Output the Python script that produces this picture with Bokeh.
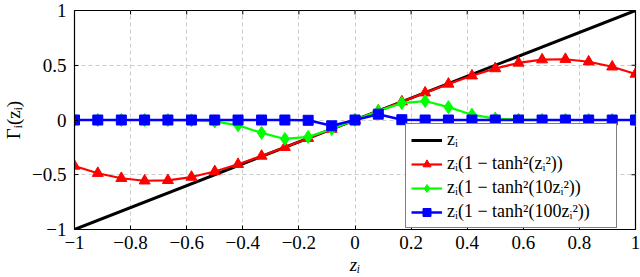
import math
from bokeh.plotting import figure
from bokeh.models import Range1d, FixedTicker, Legend, LegendItem
from bokeh.embed import file_html
from bokeh.resources import INLINE

# ---- data ----
z = [-1.0, -0.917, -0.833, -0.75, -0.667, -0.583, -0.5, -0.417, -0.333, -0.25,
     -0.167, -0.083, 0.0, 0.083, 0.167, 0.25, 0.333, 0.417, 0.5, 0.583, 0.667,
     0.75, 0.833, 0.917, 1.0]
red = [-0.420, -0.486, -0.532, -0.555, -0.551, -0.521, -0.470, -0.404, -0.329,
       -0.249, -0.167, -0.083, 0.0, 0.083, 0.167, 0.249, 0.329, 0.404, 0.470,
       0.521, 0.551, 0.555, 0.532, 0.486, 0.420]
green = [0.0, 0.0, 0.0, 0.0, -0.0004, -0.0026, -0.0133, -0.0486, -0.1175, -0.1731,
         -0.1545, -0.0829, 0.0, 0.0829, 0.1545, 0.1731, 0.1175, 0.0486, 0.0133,
         0.0026, 0.0004, 0.0, 0.0, 0.0, 0.0]
blue = [0.0, 0.0, 0.0, 0.0, 0.0, 0.0, 0.0, 0.0, 0.0, 0.0, -0.0026, -0.0532, 0.0,
        0.0532, 0.0026, 0.0, 0.0, 0.0, 0.0, 0.0, 0.0, 0.0, 0.0, 0.0, 0.0]
line_x = [-1.0, 1.0]
line_y = [-1.0, 1.0]

x_ticks = [-1, -0.8, -0.6, -0.4, -0.2, 0, 0.2, 0.4, 0.6, 0.8, 1]
x_tick_labels = ["\u22121", "\u22120.8", "\u22120.6", "\u22120.4", "\u22120.2",
                 "0", "0.2", "0.4", "0.6", "0.8", "1"]
y_ticks = [-1, -0.5, 0, 0.5, 1]
y_tick_labels = ["\u22121", "\u22120.5", "0", "0.5", "1"]

labels = ["z\u1d62",
          "z\u1d62(1 \u2212 tanh\u00b2(z\u1d62\u00b2))",
          "z\u1d62(1 \u2212 tanh\u00b2(10z\u1d62\u00b2))",
          "z\u1d62(1 \u2212 tanh\u00b2(100z\u1d62\u00b2))"]

FONT = "Liberation Serif"

p = figure(width=640, height=277, output_backend="svg", toolbar_location=None,
           x_range=Range1d(-1, 1), y_range=Range1d(-1, 1),
           min_border_left=71, min_border_right=5, min_border_top=10,
           min_border_bottom=46)

p.outline_line_color = "black"
p.outline_line_width = 1.2

for ax in p.xaxis + p.yaxis:
    ax.major_tick_in = 4
    ax.major_tick_out = 0
    ax.minor_tick_in = 0
    ax.minor_tick_out = 0
    ax.axis_line_color = "black"
    ax.major_label_text_font = FONT
    ax.major_label_text_font_size = "19px"
    ax.major_label_text_color = "black"
    ax.axis_label_text_font = FONT
    ax.axis_label_text_font_size = "19px"
    ax.axis_label_text_color = "black"

p.xaxis.ticker = FixedTicker(ticks=x_ticks)
p.xaxis.major_label_overrides = dict(zip(x_ticks, x_tick_labels))
p.yaxis.ticker = FixedTicker(ticks=y_ticks)
p.yaxis.major_label_overrides = dict(zip(y_ticks, y_tick_labels))
p.xaxis.axis_label = "z\u1d62"
p.xaxis.axis_label_text_font_style = "italic"
p.xaxis.axis_label_standoff = 2
p.xaxis.major_label_standoff = 6
p.yaxis.axis_label = "\u0393\u1d62(z\u1d62)"
p.yaxis.axis_label_text_font_style = "normal"
p.yaxis.axis_label_standoff = 5
p.yaxis.major_label_standoff = 8

p.grid.grid_line_color = "#cccccc"
p.grid.grid_line_dash = "4 3"
p.grid.grid_line_width = 1
p.xgrid.ticker = FixedTicker(ticks=x_ticks)
p.ygrid.ticker = FixedTicker(ticks=y_ticks)

# mirrored inward tick marks on the top and right edges
p.ray(x=x_ticks, y=[1] * len(x_ticks), length=4, length_units="screen",
      angle=-math.pi / 2, line_color="black", line_width=1)
p.ray(x=[1] * len(y_ticks), y=y_ticks, length=4, length_units="screen",
      angle=math.pi, line_color="black", line_width=1)

r0 = p.line(line_x, line_y, line_color="black", line_width=3)
r1l = p.line(z, red, line_color="#ff0000", line_width=2.2)
r1m = p.scatter(z, red, marker="triangle", size=11, color="#ff0000")
r2l = p.line(z, green, line_color="#00ff00", line_width=2.2)
r2m = p.scatter(z, green, marker="diamond", size=13, color="#00ff00")
r3l = p.line(z, blue, line_color="#0000ff", line_width=2.5)
r3m = p.scatter(z, blue, marker="square", size=10, color="#0000ff")

legend = Legend(items=[
    LegendItem(label=labels[0], renderers=[r0]),
    LegendItem(label=labels[1], renderers=[r1l, r1m]),
    LegendItem(label=labels[2], renderers=[r2l, r2m]),
    LegendItem(label=labels[3], renderers=[r3l, r3m]),
], location=(331, 1))
legend.label_text_font = FONT
legend.label_text_font_size = "18px"
legend.label_text_color = "black"
legend.border_line_color = "black"
legend.border_line_width = 1.2
legend.background_fill_alpha = 1
legend.glyph_width = 31
legend.glyph_height = 20
legend.label_height = 20
legend.label_width = 164
legend.spacing = 3
legend.padding = 5
legend.margin = 0
legend.label_standoff = 5
p.add_layout(legend, "center")

open("out.html", "w").write(file_html(p, INLINE))
